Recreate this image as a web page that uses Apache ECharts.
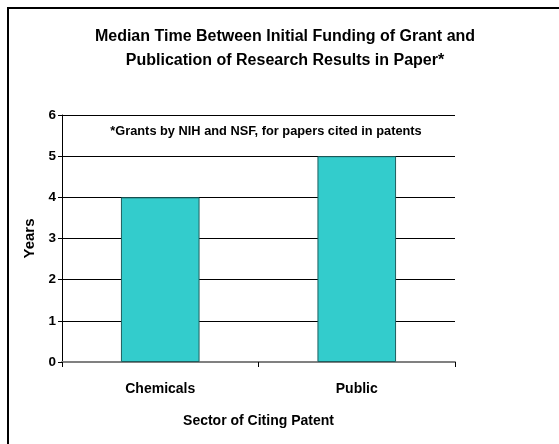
<!DOCTYPE html>
<html>
<head>
<meta charset="utf-8">
<script src="https://cdn.jsdelivr.net/npm/echarts@6/dist/echarts.min.js"></script>
<style>
html,body{margin:0;padding:0;background:#fff;}
#chart{width:559px;height:444px;}
</style>
</head>
<body>
<div id="chart"></div>
<script>
const titleText = "Median Time Between Initial Funding of Grant and\nPublication of Research Results in Paper*";
const noteText = "*Grants by NIH and NSF, for papers cited in patents";
const categories = ["Chemicals", "Public"];
const medianYears = [4, 5];
const yAxisName = "Years";
const xAxisName = "Sector of Citing Patent";
const yMin = 0, yMax = 6, yStep = 1;

const FONT = "'Liberation Sans', Arial, sans-serif";
const chart = echarts.init(document.getElementById('chart'), null, {renderer: 'canvas'});
chart.setOption({
  animation: false,
  backgroundColor: '#ffffff',
  title: {
    text: titleText,
    left: 280, top: 20,
    textAlign: 'center',
    textStyle: {fontFamily: FONT, fontSize: 16, fontWeight: 'bold', color: '#000', lineHeight: 24}
  },
  grid: {left: 62, right: 104, top: 115, bottom: 82, containLabel: false},
  xAxis: {
    type: 'category',
    data: categories,
    boundaryGap: true,
    axisLine: {show: true, lineStyle: {color: '#808080', width: 2}},
    axisTick: {show: true, alignWithLabel: false, length: 5, lineStyle: {color: '#000', width: 1}},
    axisLabel: {margin: 20, fontFamily: FONT, fontSize: 14, fontWeight: 'bold', color: '#000'},
    name: xAxisName,
    nameLocation: 'middle',
    nameGap: 52,
    nameTextStyle: {fontFamily: FONT, fontSize: 14, fontWeight: 'bold', color: '#000'}
  },
  yAxis: {
    type: 'value',
    min: yMin, max: yMax, interval: yStep,
    axisLine: {show: true, lineStyle: {color: '#000', width: 1}},
    axisTick: {show: true, length: 4, lineStyle: {color: '#000'}},
    axisLabel: {margin: 6, fontFamily: FONT, fontSize: 13.5, fontWeight: 'bold', color: '#000'},
    splitLine: {show: true, lineStyle: {color: '#000', width: 1}},
    name: yAxisName,
    nameLocation: 'middle',
    nameRotate: 90,
    nameGap: 21,
    nameTextStyle: {fontFamily: FONT, fontSize: 15, fontWeight: 'bold', color: '#000'}
  },
  series: [{
    type: 'bar',
    data: medianYears,
    barWidth: '40%',
    itemStyle: {color: '#33CCCC', borderColor: '#1F5F5F', borderWidth: 1}
  }],
  graphic: [
    {type: 'rect', silent: true, z: -10,
     shape: {x: 8, y: 8, width: 700, height: 600},
     style: {fill: null, stroke: '#000', lineWidth: 2}},
    {type: 'text', silent: true, z: 10,
     style: {x: 266, y: 131, text: noteText, textAlign: 'center', textVerticalAlign: 'middle',
             font: 'bold 12.8px ' + FONT, fill: '#000'}}
  ]
});
</script>
</body>
</html>
